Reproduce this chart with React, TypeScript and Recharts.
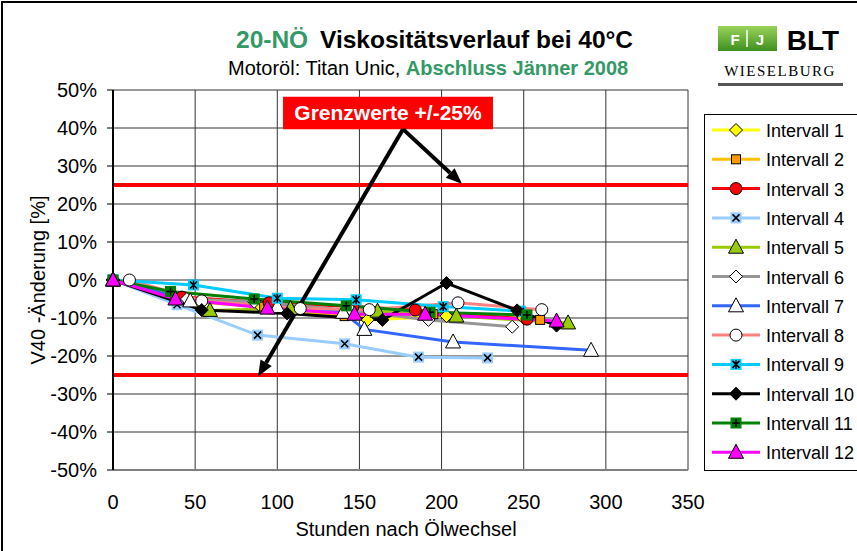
import React from 'react';
import { LineChart, Line, XAxis, YAxis, CartesianGrid, ReferenceLine, ReferenceArea } from 'recharts';

// hours after oil change / change of V40 in %
const hours1 = [0, 40, 90, 155, 203, 250];
const change1 = [0, -5.5, -7, -10.5, -9.5, -10];
const hours2 = [0, 38, 92, 141, 195, 260];
const change2 = [0, -5, -7, -9.5, -9, -10.5];
const hours3 = [0, 42, 95, 146, 184, 252];
const change3 = [0, -4.5, -6, -7, -7.9, -10.3];
const hours4 = [0, 39, 88, 141, 186, 228];
const change4 = [0, -6.5, -14.5, -16.8, -20.3, -20.5];
const hours5 = [0, 59, 108, 161, 209, 277];
const change5 = [0, -8, -7.5, -8.2, -9.5, -11.3];
const hours6 = [0, 45, 86, 145, 192, 243];
const change6 = [0, -5, -5.7, -8, -10.5, -12.3];
const hours7 = [0, 47, 100, 140, 153, 207, 291];
const change7 = [0, -5.5, -7, -8.5, -13, -16.3, -18.5];
const hours8 = [10, 54, 114, 156, 210, 261];
const change8 = [0, -5.5, -7.5, -7.8, -6, -7.8];
const hours9 = [0, 49, 100, 148, 201, 248];
const change9 = [0, -1.3, -4.8, -5.2, -7, -8.2];
const hours10 = [0, 54, 106, 164, 203, 246, 270];
const change10 = [0, -7.9, -8.8, -10.5, -0.8, -8, -12];
const hours11 = [0, 35, 86, 142, 193, 252];
const change11 = [0, -3, -5, -6.8, -8.5, -9.2];
const hours12 = [0, 38, 94, 147, 190, 270];
const change12 = [0, -5, -7.4, -9, -9, -10.8];

const xTicks = [0, 50, 100, 150, 200, 250, 300, 350];
const yTicks = [-50, -40, -30, -20, -10, 0, 10, 20, 30, 40, 50];
const limits = [25, -25];

// annotation box and arrows, in data units
const noteBox = { x1: 103.5, x2: 231.3, y1: 39.7, y2: 48.2 };
const arrowFrom = { x: 176.5, y: 39.7 };
const arrowTo = [{ x: 212.4, y: 25.3 }, { x: 88.3, y: -25.4 }];

const zip = (xs: number[], ys: number[]) => xs.map((x, i) => ({ x, y: ys[i] }));

const series = [
  { name: 'Intervall 1', data: zip(hours1, change1), line: '#FFFF00', fill: '#FFFF00', shape: 'diamond' },
  { name: 'Intervall 2', data: zip(hours2, change2), line: '#FFC000', fill: '#FF9900', shape: 'square' },
  { name: 'Intervall 3', data: zip(hours3, change3), line: '#FF0000', fill: '#FF0000', shape: 'circle' },
  { name: 'Intervall 4', data: zip(hours4, change4), line: '#99CCFF', fill: '#99CCFF', shape: 'xbox' },
  { name: 'Intervall 5', data: zip(hours5, change5), line: '#99CC00', fill: '#99CC00', shape: 'triangle' },
  { name: 'Intervall 6', data: zip(hours6, change6), line: '#969696', fill: '#FFFFFF', shape: 'diamond' },
  { name: 'Intervall 7', data: zip(hours7, change7), line: '#3366FF', fill: '#FFFFFF', shape: 'triangle' },
  { name: 'Intervall 8', data: zip(hours8, change8), line: '#FF8080', fill: '#FFFFFF', shape: 'circle' },
  { name: 'Intervall 9', data: zip(hours9, change9), line: '#00CCFF', fill: '#00CCFF', shape: 'starbox' },
  { name: 'Intervall 10', data: zip(hours10, change10), line: '#000000', fill: '#000000', shape: 'diamond' },
  { name: 'Intervall 11', data: zip(hours11, change11), line: '#008000', fill: '#008000', shape: 'plusbox' },
  { name: 'Intervall 12', data: zip(hours12, change12), line: '#FF00FF', fill: '#FF00FF', shape: 'triangle' },
];

const FONT = '"Liberation Sans", Arial, sans-serif';
const GREEN = '#339966';

const Marker = ({ cx, cy, shape, fill }: any) => {
  if (cx == null || cy == null) return null;
  const k = { stroke: '#000', strokeWidth: 1 };
  switch (shape) {
    case 'diamond':
      return <polygon points={`${cx},${cy - 6.5} ${cx + 6.5},${cy} ${cx},${cy + 6.5} ${cx - 6.5},${cy}`} fill={fill} {...k} />;
    case 'square':
      return <rect x={cx - 4.5} y={cy - 4.5} width={9} height={9} fill={fill} {...k} />;
    case 'circle':
      return <circle cx={cx} cy={cy} r={6} fill={fill} {...k} />;
    case 'triangle':
      return <polygon points={`${cx},${cy - 8} ${cx + 7.5},${cy + 6} ${cx - 7.5},${cy + 6}`} fill={fill} {...k} />;
    case 'xbox':
      return (
        <g>
          <rect x={cx - 5.5} y={cy - 5.5} width={11} height={11} fill={fill} />
          <path d={`M${cx - 3.5},${cy - 3.5}L${cx + 3.5},${cy + 3.5}M${cx + 3.5},${cy - 3.5}L${cx - 3.5},${cy + 3.5}`} stroke="#000" strokeWidth={1.5} />
        </g>
      );
    case 'starbox':
      return (
        <g>
          <rect x={cx - 5.5} y={cy - 5.5} width={11} height={11} fill={fill} />
          <path d={`M${cx - 3.5},${cy - 3.5}L${cx + 3.5},${cy + 3.5}M${cx + 3.5},${cy - 3.5}L${cx - 3.5},${cy + 3.5}M${cx},${cy - 4.5}L${cx},${cy + 4.5}`} stroke="#000" strokeWidth={1.5} />
        </g>
      );
    case 'plusbox':
      return (
        <g>
          <rect x={cx - 5.5} y={cy - 5.5} width={11} height={11} fill={fill} />
          <path d={`M${cx - 4},${cy}L${cx + 4},${cy}M${cx},${cy - 4}L${cx},${cy + 4}`} stroke="#000" strokeWidth={1.5} />
        </g>
      );
    default:
      return null;
  }
};

const Arrow = (props: any) => {
  const { x1, y1, x2, y2 } = props;
  if (x1 == null) return null;
  const a = Math.atan2(y2 - y1, x2 - x1);
  const len = 16;
  const half = 6.5;
  const bx = x2 - len * Math.cos(a);
  const by = y2 - len * Math.sin(a);
  const px = -Math.sin(a) * half;
  const py = Math.cos(a) * half;
  return (
    <g>
      <line x1={x1} y1={y1} x2={bx} y2={by} stroke="#000" strokeWidth={4} />
      <polygon points={`${x2},${y2} ${bx + px},${by + py} ${bx - px},${by - py}`} fill="#000" />
    </g>
  );
};

export default function App() {
  return (
    <div style={{ position: 'absolute', left: 0, top: 0, width: 857, height: 551, overflow: 'hidden', background: '#fff', fontFamily: FONT }}>
      <div style={{ position: 'absolute', left: 1, top: 1, width: 900, height: 600, border: '2px solid #000' }} />

      <LineChart width={857} height={551} margin={{ top: 90, right: 169, bottom: 0, left: 0 }} style={{ position: 'absolute', left: 0, top: 0 }}>
        <CartesianGrid stroke="#333" strokeWidth={1} />
        <XAxis
          type="number"
          dataKey="x"
          domain={[0, 350]}
          ticks={xTicks}
          height={81}
          tickLine={false}
          tickSize={0}
          tickMargin={25}
          axisLine={{ stroke: '#808080', strokeWidth: 2 }}
          tick={{ fill: '#000', fontSize: 20, fontFamily: FONT }}
        />
        <YAxis
          type="number"
          domain={[-50, 50]}
          ticks={yTicks}
          width={113}
          tickSize={6}
          tickMargin={10}
          tickLine={{ stroke: '#000' }}
          axisLine={{ stroke: '#000', strokeWidth: 2 }}
          tickFormatter={(v: number) => `${v}%`}
          tick={{ fill: '#000', fontSize: 20, fontFamily: FONT }}
        />
        {limits.map((v) => (
          <ReferenceLine key={v} y={v} stroke="#FF0000" strokeWidth={4} />
        ))}
        {series.map((s) => (
          <Line
            key={s.name}
            data={s.data}
            dataKey="y"
            name={s.name}
            type="linear"
            stroke={s.line}
            strokeWidth={3}
            isAnimationActive={false}
            activeDot={false}
            dot={(p: any) => <Marker key={`${s.name}-${p.index}`} cx={p.cx} cy={p.cy} shape={s.shape} fill={s.fill} />}
          />
        ))}
        <ReferenceArea
          x1={noteBox.x1}
          x2={noteBox.x2}
          y1={noteBox.y1}
          y2={noteBox.y2}
          fill="#FF0000"
          fillOpacity={1}
          stroke="none"
          label={{ value: 'Grenzwerte +/-25%', position: 'center', fill: '#fff', fontSize: 21, fontWeight: 'bold', fontFamily: FONT }}
        />
        {arrowTo.map((t, i) => (
          <ReferenceLine
            key={i}
            segment={[arrowFrom, t]}
            shape={(p: any) => <Arrow {...p} />}
          />
        ))}
      </LineChart>

      <svg width={857} height={551} style={{ position: 'absolute', left: 0, top: 0, pointerEvents: 'none' }} fontFamily={FONT}>
        <text x={236} y={48} fontSize={24.5} fontWeight="bold" fill={GREEN}>20-NÖ</text>
        <text x={320} y={48} fontSize={24.5} fontWeight="bold" fill="#000">Viskositätsverlauf bei 40°C</text>
        <text x={228} y={75} fontSize={20} fill="#000">
          Motoröl: Titan Unic, <tspan fontWeight="bold" fill={GREEN}>Abschluss Jänner 2008</tspan>
        </text>
        <text x={406} y={536} fontSize={20} textAnchor="middle" fill="#000">Stunden nach Ölwechsel</text>
        <text transform="translate(45,280) rotate(-90)" fontSize={20} textAnchor="middle" fill="#000">V40 -Änderung [%]</text>

        {/* logo */}
        <defs>
          <linearGradient id="fjg" x1="0" y1="0" x2="0" y2="1">
            <stop offset="0" stopColor="#9ad35a" />
            <stop offset="1" stopColor="#3e8f1f" />
          </linearGradient>
        </defs>
        <rect x={718} y={26} width={59} height={25} fill="url(#fjg)" />
        <text x={735} y={45} fontSize={15} fontWeight="bold" fill="#fff" textAnchor="middle">F</text>
        <line x1={747} y1={30} x2={747} y2={47} stroke="#fff" strokeWidth={1.5} />
        <text x={760} y={45} fontSize={15} fontWeight="bold" fill="#fff" textAnchor="middle">J</text>
        <text x={813} y={50} fontSize={28} fontWeight="bold" fill="#000" textAnchor="middle">BLT</text>
        <text x={780} y={76} fontSize={15} fill="#000" textAnchor="middle" fontFamily='"Liberation Serif", serif' letterSpacing={1.5}>WIESELBURG</text>
        <rect x={718} y={83} width={125} height={3} fill="#555" />

        {/* legend */}
        <rect x={704.5} y={114.5} width={170} height={356} fill="#fff" stroke="#000" strokeWidth={1} />
        {series.map((s, i) => {
          const y = 130 + i * 29.3;
          return (
            <g key={s.name}>
              <line x1={712} y1={y} x2={760} y2={y} stroke={s.line} strokeWidth={3} />
              <Marker cx={736} cy={y} shape={s.shape} fill={s.fill} />
              <text x={766} y={y + 7} fontSize={18} fill="#000">{s.name}</text>
            </g>
          );
        })}
      </svg>
    </div>
  );
}
